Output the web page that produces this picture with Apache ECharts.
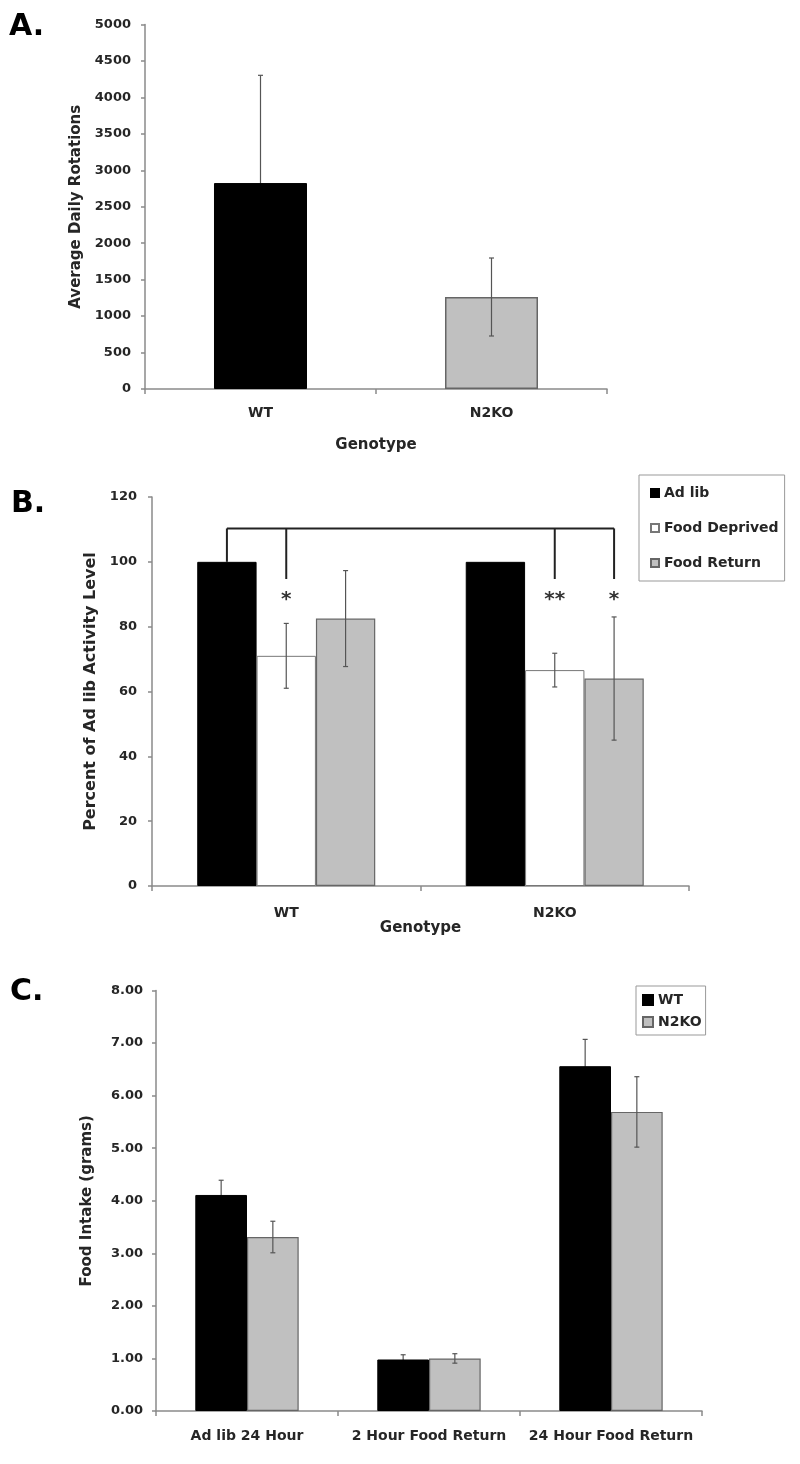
<!DOCTYPE html>
<html><head><meta charset="utf-8">
<script src="https://cdn.jsdelivr.net/npm/echarts@6/dist/echarts.min.js"></script>
<style>html,body{margin:0;padding:0;background:#fff}#c{width:800px;height:1464px}</style>
</head><body><div id="c"></div>
<script>
// ---------- data ----------
const genotypes = ['WT', 'N2KO'];
const rotationsMean = [2825, 1262];
const rotationsErr = [1478, 535];
const rotationTicks = {min: 0, max: 5000, interval: 500};

const activitySeries = ['Ad lib', 'Food Deprived', 'Food Return'];
const activityAdLib = [100, 100];
const activityDeprived = [71.0, 66.6];
const activityDeprivedErr = [10.0, 5.2];
const activityReturn = [82.5, 64.0];
const activityReturnErr = [14.8, 19.0];
const activityTicks = {min: 0, max: 120, interval: 20};

const bracketLevel = 110.3;
// [category index, bar slot, value the leg drops to]
const bracketLegs = [[0, 0, 100], [0, 1, 94.7], [1, 1, 94.7], [1, 2, 94.7]];
const sigLevel = 89.5;
const sigMarks = [[0, 1, '*'], [1, 1, '**'], [1, 2, '*']];

const intakeCategories = ['Ad lib 24 Hour', '2 Hour Food Return', '24 Hour Food Return'];
const intakeGroups = ['WT', 'N2KO'];
const intakeWT = [4.11, 0.98, 6.56];
const intakeWTErr = [0.28, 0.09, 0.51];
const intakeN2KO = [3.31, 1.00, 5.69];
const intakeN2KOErr = [0.30, 0.09, 0.67];
const intakeTicks = {min: 0, max: 8, interval: 1};

// ---------- style ----------
const FONT = 'DejaVu Sans';
const TXT = '#262626';
const AXIS = '#8a8a8a';
const GRAY = '#c0c0c0';
const GRAYBORDER = '#666';
const ERR = '#555';

function errorSeries(axisIdx, values, errs, slot, nSlots, frac, z) {
  return {
    type: 'custom', xAxisIndex: axisIdx, yAxisIndex: axisIdx, z: z, silent: true,
    encode: {x: 0, y: 1},
    data: values.map((v, i) => [i, v, errs[i]]),
    renderItem: function (params, api) {
      const c = api.value(0), v = api.value(1), e = api.value(2);
      const bw = api.size([1, 0])[0] * frac;
      const off = (slot - (nSlots - 1) / 2) * bw;
      const p1 = api.coord([c, v + e]), p2 = api.coord([c, v - e]);
      const x = p1[0] + off, cap = 2.5;
      const st = {stroke: ERR, lineWidth: 1.2};
      return {type: 'group', children: [
        {type: 'line', shape: {x1: x, y1: p1[1], x2: x, y2: p2[1]}, style: st},
        {type: 'line', shape: {x1: x - cap, y1: p1[1], x2: x + cap, y2: p1[1]}, style: st},
        {type: 'line', shape: {x1: x - cap, y1: p2[1], x2: x + cap, y2: p2[1]}, style: st}
      ]};
    }
  };
}

function yAxisCfg(idx, ticks, name, nameGap, margin, fmt, fontSize) {
  return {
    type: 'value', gridIndex: idx, min: ticks.min, max: ticks.max, interval: ticks.interval,
    name: name, nameLocation: 'middle', nameRotate: 90, nameGap: nameGap,
    nameTextStyle: {fontFamily: FONT, fontWeight: 'bold', fontSize: fontSize, color: TXT},
    axisLine: {show: true, lineStyle: {color: AXIS, width: 1.5}},
    axisTick: {show: true, length: 4, lineStyle: {color: AXIS, width: 1.5}},
    splitLine: {show: false},
    axisLabel: {margin: margin, fontFamily: FONT, fontWeight: 'bold', fontSize: 13, color: TXT, formatter: fmt}
  };
}
function xAxisCfg(idx, cats, name, nameGap, margin, fontSize) {
  return {
    type: 'category', gridIndex: idx, data: cats,
    name: name, nameLocation: 'middle', nameGap: nameGap,
    nameTextStyle: {fontFamily: FONT, fontWeight: 'bold', fontSize: 15, color: TXT},
    axisLine: {show: true, lineStyle: {color: AXIS, width: 1.5}},
    axisTick: {show: true, length: 5, lineStyle: {color: AXIS, width: 1.5}},
    axisLabel: {margin: margin, fontFamily: FONT, fontWeight: 'bold', fontSize: fontSize, color: TXT, interval: 0}
  };
}

const B_FRAC = 0.221, C_FRAC = 0.284, A_FRAC = 0.4026;

const option = {
  animation: false,
  backgroundColor: '#fff',
  grid: [
    {left: 145, top: 24.5, width: 462, height: 364.5},
    {left: 152, top: 497, width: 537, height: 389},
    {left: 156, top: 990.5, width: 546, height: 420.5}
  ],
  xAxis: [
    xAxisCfg(0, genotypes, 'Genotype', 49, 17, 14),
    xAxisCfg(1, genotypes, 'Genotype', 28, 20, 14),
    xAxisCfg(2, intakeCategories, '', 0, 18, 14)
  ],
  yAxis: [
    yAxisCfg(0, rotationTicks, 'Average Daily Rotations', 61, 14, v => String(v), 15),
    yAxisCfg(1, activityTicks, 'Percent of Ad lib Activity Level', 45, 15, v => String(v), 16),
    yAxisCfg(2, intakeTicks, 'Food Intake (grams)', 61, 13, v => v.toFixed(2), 15)
  ],
  legend: [
    {
      data: activitySeries, orient: 'vertical', left: 639, top: 475, icon: 'rect',
      itemWidth: 8, itemHeight: 8, itemGap: 19, padding: [10, 6, 10, 11],
      borderColor: '#999', borderWidth: 1, selectedMode: false,
      textStyle: {fontFamily: FONT, fontWeight: 'bold', fontSize: 14, color: TXT, lineHeight: 16}
    },
    {
      data: intakeGroups, orient: 'vertical', left: 636, top: 986, icon: 'rect',
      itemWidth: 10, itemHeight: 10, itemGap: 6, padding: [6, 4, 5, 6],
      borderColor: '#999', borderWidth: 1, selectedMode: false,
      textStyle: {fontFamily: FONT, fontWeight: 'bold', fontSize: 14, color: TXT, lineHeight: 16}
    }
  ],
  graphic: [
    {type: 'text', left: 9, top: 12, style: {text: 'A.', fontFamily: FONT, fontWeight: 'bold', fontSize: 30, fill: '#000'}},
    {type: 'text', left: 11, top: 489, style: {text: 'B.', fontFamily: FONT, fontWeight: 'bold', fontSize: 30, fill: '#000'}},
    {type: 'text', left: 10, top: 977, style: {text: 'C.', fontFamily: FONT, fontWeight: 'bold', fontSize: 30, fill: '#000'}}
  ],
  series: [
    // Panel A
    errorSeries(0, [rotationsMean[0]], [rotationsErr[0]], 0, 1, A_FRAC, 1),
    {
      name: 'Rotations', type: 'bar', xAxisIndex: 0, yAxisIndex: 0, barWidth: '40.26%', z: 2,
      data: [
        {value: rotationsMean[0], itemStyle: {color: '#000', borderColor: '#000', borderWidth: 1}},
        {value: rotationsMean[1], itemStyle: {color: GRAY, borderColor: GRAYBORDER, borderWidth: 1.5}}
      ]
    },
    {
      type: 'custom', xAxisIndex: 0, yAxisIndex: 0, z: 3, silent: true, encode: {x: 0, y: 1},
      data: [[1, rotationsMean[1], rotationsErr[1]]],
      renderItem: errorSeries(0, [0], [0], 0, 1, A_FRAC, 3).renderItem
    },
    // Panel B
    {
      name: activitySeries[0], type: 'bar', xAxisIndex: 1, yAxisIndex: 1, barWidth: '22.1%', barGap: '0%',
      data: activityAdLib, itemStyle: {color: '#000', borderColor: '#000', borderWidth: 1}
    },
    {
      name: activitySeries[1], type: 'bar', xAxisIndex: 1, yAxisIndex: 1, barWidth: '22.1%', barGap: '0%',
      data: activityDeprived, itemStyle: {color: '#fff', borderColor: '#777', borderWidth: 1}
    },
    {
      name: activitySeries[2], type: 'bar', xAxisIndex: 1, yAxisIndex: 1, barWidth: '22.1%', barGap: '0%',
      data: activityReturn, itemStyle: {color: GRAY, borderColor: GRAYBORDER, borderWidth: 1.2}
    },
    errorSeries(1, activityDeprived, activityDeprivedErr, 1, 3, B_FRAC, 3),
    errorSeries(1, activityReturn, activityReturnErr, 2, 3, B_FRAC, 3),
    {
      type: 'custom', xAxisIndex: 1, yAxisIndex: 1, z: 4, silent: true, encode: {x: 0, y: 1},
      data: [[0, bracketLevel]],
      renderItem: function (params, api) {
        const bw = api.size([1, 0])[0] * B_FRAC;
        const px = (c, slot, v) => { const p = api.coord([c, v]); return [p[0] + (slot - 1) * bw, p[1]]; };
        const st = {stroke: '#222', lineWidth: 2};
        const first = bracketLegs[0], last = bracketLegs[bracketLegs.length - 1];
        const a = px(first[0], first[1], bracketLevel), b = px(last[0], last[1], bracketLevel);
        const children = [{type: 'line', shape: {x1: a[0], y1: a[1], x2: b[0], y2: b[1]}, style: st}];
        bracketLegs.forEach(l => {
          const t = px(l[0], l[1], bracketLevel), d = px(l[0], l[1], l[2]);
          children.push({type: 'line', shape: {x1: t[0], y1: t[1], x2: d[0], y2: d[1]}, style: st});
        });
        sigMarks.forEach(m => {
          const p = px(m[0], m[1], sigLevel);
          children.push({type: 'text', x: p[0], y: p[1] + 4, style: {text: m[2], fontFamily: FONT, fontWeight: 'bold', fontSize: 20, fill: '#333', align: 'center', verticalAlign: 'middle'}});
        });
        return {type: 'group', children: children};
      }
    },
    // Panel C
    errorSeries(2, intakeWT, intakeWTErr, 0, 2, C_FRAC, 1),
    {
      name: intakeGroups[0], type: 'bar', xAxisIndex: 2, yAxisIndex: 2, barWidth: '28.4%', barGap: '0%', z: 2,
      data: intakeWT, itemStyle: {color: '#000', borderColor: '#000', borderWidth: 1}
    },
    {
      name: intakeGroups[1], type: 'bar', xAxisIndex: 2, yAxisIndex: 2, barWidth: '28.4%', barGap: '0%', z: 2,
      data: intakeN2KO, itemStyle: {color: GRAY, borderColor: GRAYBORDER, borderWidth: 1.2}
    },
    errorSeries(2, intakeN2KO, intakeN2KOErr, 1, 2, C_FRAC, 3)
  ]
};

const chart = echarts.init(document.getElementById('c'), null, {renderer: 'canvas'});
chart.setOption(option);
</script>
</body></html>
